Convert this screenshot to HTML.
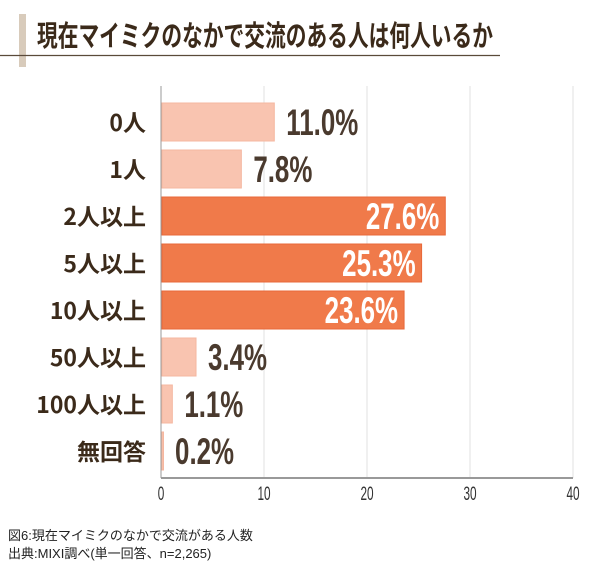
<!DOCTYPE html>
<html><head><meta charset="utf-8">
<style>
body{margin:0;background:#fff;width:600px;height:574px;overflow:hidden;font-family:"Liberation Sans","Noto Sans CJK JP",sans-serif;}
</style></head>
<body>
<svg width="600" height="574" xmlns="http://www.w3.org/2000/svg">
  <rect x="19" y="14" width="7" height="53" fill="#d8cbbb"/>
  <line x1="0" y1="55.5" x2="500" y2="55.5" stroke="#5a4a3a" stroke-width="1.2"/>
  <text x="37" y="46" font-size="29" font-weight="bold" fill="#3b2a1a" textLength="456" lengthAdjust="spacingAndGlyphs" font-family="Noto Sans CJK JP, sans-serif">現在マイミクのなかで交流のある人は何人いるか</text>
  <g id="grid"></g>
  <g id="bars"></g>
  <text x="8" y="540" font-size="13" fill="#222" font-family="Liberation Sans, Noto Sans CJK JP, sans-serif">図6:現在マイミクのなかで交流がある人数</text>
  <text x="8" y="558" font-size="13" fill="#222" font-family="Liberation Sans, Noto Sans CJK JP, sans-serif">出典:MIXI調べ(単一回答、n=2,265)</text>
</svg>
<script>
const categories=["0人","1人","2人以上","5人以上","10人以上","50人以上","100人以上","無回答"];
const values=[11.0,7.8,27.6,25.3,23.6,3.4,1.1,0.2];
const ticks=[0,10,20,30,40];
const NS="http://www.w3.org/2000/svg";
const X0=161,X1=573,PTOP=86,AXY=478,STEP=47,BH=38,FIRSTC=122;
const xs=v=>X0+(v/40)*(X1-X0);
const yc=i=>FIRSTC+i*STEP;
const grid=document.getElementById('grid'),bars=document.getElementById('bars');
function mk(tag,attrs,parent){const e=document.createElementNS(NS,tag);for(const k in attrs)e.setAttribute(k,attrs[k]);parent.appendChild(e);return e;}
ticks.forEach(t=>{
  const l=mk('line',{x1:xs(t),x2:xs(t),y1:PTOP,y2:AXY,stroke:t===0?'#999':'#e2e2e2','stroke-width':1},grid);
  
  
  const tx=mk('text',{x:xs(t),y:AXY+22,'font-size':19,fill:'#333','text-anchor':'middle',transform:`translate(${xs(t)},0) scale(0.62,1) translate(${-xs(t)},0)`},grid);
  tx.textContent=t;
  
  
});
const ax=mk('line',{x1:X0,x2:X1,y1:AXY,y2:AXY,stroke:'#999','stroke-width':2},grid);


categories.forEach((c,i)=>{
  const isBig=values[i]>20;
  const r=mk('rect',{x:X0+1,y:yc(i)-BH/2,width:Math.max(xs(values[i])-X0-1,1.5),height:BH,fill:isBig?'#f07a4a':'#f9c4b0',stroke:isBig?'#e8683a':'#f5b7a0','stroke-width':1},bars);
  
  
  const lb=mk('text',{x:146,y:yc(i)+9,'font-size':23,fill:'#3b2a1a','text-anchor':'end','font-weight':'bold','font-family':'Noto Sans CJK JP, sans-serif'},bars);
  lb.textContent=c;
  
  
  const vx=isBig?xs(values[i])-6:xs(values[i])+12;
  const vt=mk('text',{x:vx,y:yc(i)+13,'font-size':37,'font-weight':'bold',fill:isBig?'#fff':'#4a3a2e','text-anchor':isBig?'end':'start',transform:`translate(${vx},0) scale(0.7,1) translate(${-vx},0)`},bars);
  vt.textContent=values[i].toFixed(1)+'%';
  
  
});
</script>
</body></html>
